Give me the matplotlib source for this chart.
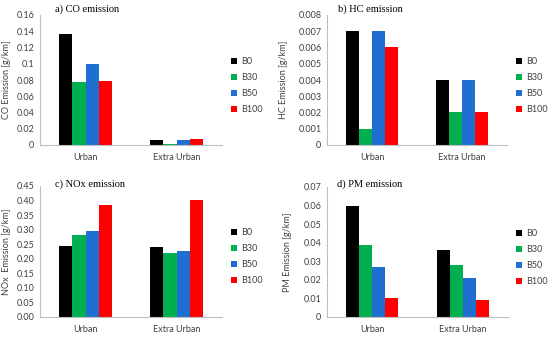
import matplotlib
matplotlib.use("Agg")
import matplotlib.pyplot as plt
import numpy as np

categories = ["Urban", "Extra Urban"]
series = ["B0", "B30", "B50", "B100"]
colors = ["#000000", "#00B050", "#1F6FD0", "#FF0000"]

co_vals = [[0.136, 0.006], [0.078, 0.001], [0.100, 0.006], [0.079, 0.007]]
hc_vals = [[0.007, 0.004], [0.001, 0.002], [0.007, 0.004], [0.006, 0.002]]
nox_vals = [[0.245, 0.240], [0.280, 0.220], [0.295, 0.227], [0.385, 0.402]]
pm_vals = [[0.060, 0.036], [0.039, 0.028], [0.027, 0.021], [0.010, 0.009]]

co_ticks = [0, 0.02, 0.04, 0.06, 0.08, 0.1, 0.12, 0.14, 0.16]
co_ticklabels = ["0", "0.02", "0.04", "0.06", "0.08", "0.1", "0.12", "0.14", "0.16"]
hc_ticks = [0, 0.001, 0.002, 0.003, 0.004, 0.005, 0.006, 0.007, 0.008]
hc_ticklabels = ["0", "0.001", "0.002", "0.003", "0.004", "0.005", "0.006", "0.007", "0.008"]
nox_ticks = [0, 0.05, 0.10, 0.15, 0.20, 0.25, 0.30, 0.35, 0.40, 0.45]
nox_ticklabels = ["0.00", "0.05", "0.10", "0.15", "0.20", "0.25", "0.30", "0.35", "0.40", "0.45"]
pm_ticks = [0, 0.01, 0.02, 0.03, 0.04, 0.05, 0.06, 0.07]
pm_ticklabels = ["0", "0.01", "0.02", "0.03", "0.04", "0.05", "0.06", "0.07"]

W, H = 550, 338
fig = plt.figure(figsize=(W / 100, H / 100), dpi=100)
fig.patch.set_facecolor("white")

sans = ["Lato", "DejaVu Sans"]
serif = ["Liberation Serif", "DejaVu Serif"]
fs = 6.5
tc = "#404040"

def px_axes(l, r, t, b):
    return fig.add_axes([l / W, (H - b) / H, (r - l) / W, (b - t) / H])

panels = [
    dict(box=(40, 222, 15, 145), vals=co_vals, ticks=co_ticks, tl=co_ticklabels,
         title="a) CO emission", tpos=(55, 9), ylabel="CO Emission [g/km]", ylx=7, leg=(231, 57)),
    dict(box=(327, 507, 15, 145), vals=hc_vals, ticks=hc_ticks, tl=hc_ticklabels,
         title="b) HC emission", tpos=(338, 9), ylabel="HC Emission [g/km]", ylx=284, leg=(516, 57)),
    dict(box=(40, 222, 186, 317), vals=nox_vals, ticks=nox_ticks, tl=nox_ticklabels,
         title="c) NOx emission", tpos=(55, 184), ylabel="NOx  Emission [g/km]", ylx=7, leg=(231, 228)),
    dict(box=(327, 508, 187, 317), vals=pm_vals, ticks=pm_ticks, tl=pm_ticklabels,
         title="d) PM emission", tpos=(337, 184), ylabel="PM Emission [g/km]", ylx=287, leg=(516, 229)),
]

x = np.arange(len(categories))
bw = 0.143
for p in panels:
    ax = px_axes(*p["box"])
    handles = []
    for i, s in enumerate(series):
        off = (i - 1.5) * bw
        h = ax.bar(x + off, p["vals"][i], width=bw, color=colors[i], label=s, linewidth=0)
        handles.append(h)
    ax.set_xlim(-0.5, 1.5)
    ax.set_ylim(p["ticks"][0], p["ticks"][-1])
    ax.set_yticks(p["ticks"])
    ax.set_yticklabels(p["tl"], fontsize=fs, family=sans, color=tc)
    ax.set_xticks(x)
    ax.set_xticklabels(categories, fontsize=fs, family=sans, color=tc)
    ax.tick_params(axis="y", length=0, pad=4)
    ax.tick_params(axis="x", length=0, pad=6)
    for sp in ["top", "right"]:
        ax.spines[sp].set_visible(False)
    for sp in ["left", "bottom"]:
        ax.spines[sp].set_color("#BFBFBF")
        ax.spines[sp].set_linewidth(0.8)
    l, r, t, b = p["box"]
    fig.text(p["tpos"][0] / W, 1 - p["tpos"][1] / H, p["title"], family=serif,
             fontsize=7.5, va="center", ha="left")
    fig.text(p["ylx"] / W, 1 - ((t + b) / 2) / H, p["ylabel"], rotation=90,
             family=sans, fontsize=fs, va="center", ha="center", color=tc)
    leg = fig.legend(handles=handles, labels=series, loc="upper left",
                     bbox_to_anchor=(p["leg"][0] / W, 1 - p["leg"][1] / H),
                     frameon=False, prop={"family": sans, "size": fs},
                     handlelength=0.7, handleheight=0.7, handletextpad=0.4,
                     labelspacing=0.78, borderpad=0, borderaxespad=0)
    for txt in leg.get_texts():
        txt.set_color(tc)

fig.savefig("out.png", dpi=100, facecolor="white")
